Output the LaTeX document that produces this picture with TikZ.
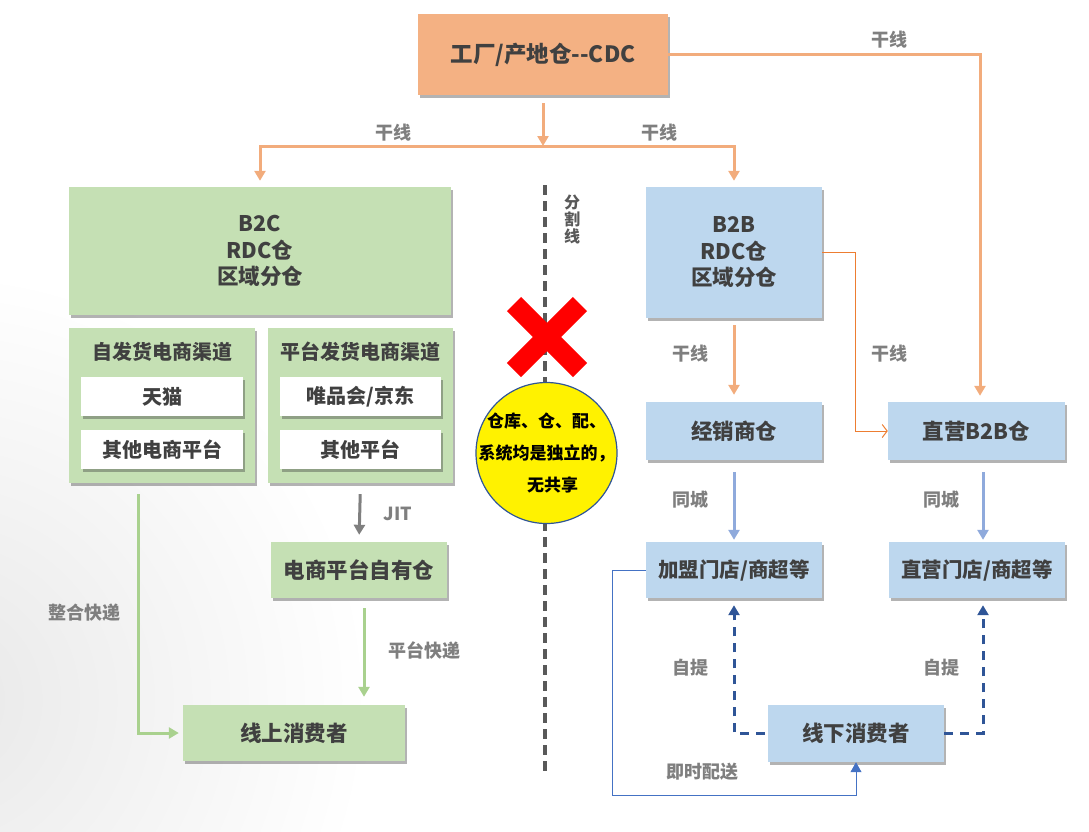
\documentclass[tikz,border=0pt]{standalone}
\usepackage{fontspec}
\setmainfont{Noto Sans CJK SC}
\usepackage{tikz}
\usetikzlibrary{arrows.meta,positioning,shadows,calc}
\definecolor{LogOrange}{HTML}{F4B183}
\definecolor{LogTrunk}{HTML}{F2AC7C}
\definecolor{LogThin}{HTML}{ED7D31}
\definecolor{LogGreen}{HTML}{C5E0B4}
\definecolor{LogGreenLine}{HTML}{A9D18E}
\definecolor{LogBlue}{HTML}{BDD7EE}
\definecolor{LogBlueLine}{HTML}{8FAADC}
\definecolor{LogNavy}{HTML}{2F5597}
\definecolor{LogRoyal}{HTML}{4472C4}
\definecolor{LogText}{HTML}{404040}
\definecolor{LogLabel}{HTML}{7F7F7F}
\definecolor{LogDivider}{HTML}{595959}
\tikzset{
  basebox/.style={draw=none,align=center,inner sep=2pt,text=LogText,font=\fontsize{21.5}{26.5}\selectfont\bfseries,drop shadow={shadow xshift=1.5pt,shadow yshift=-2.5pt,opacity=.4,fill=black!75}},
  cdcbox/.style={basebox,fill=LogOrange,font=\fontsize{22.5}{26}\selectfont\bfseries},
  b2cbox/.style={basebox,fill=LogGreen},
  b2bbox/.style={basebox,fill=LogBlue},
  chanbox/.style={basebox,fill=white,minimum width=162pt,minimum height=39pt,font=\fontsize{20}{24}\selectfont\bfseries},
  lbl/.style={font=\fontsize{18}{20}\selectfont\bfseries,text=LogLabel},
  trunkarrow/.style={-{Triangle[length=10pt,width=11pt]},line width=3pt,draw=LogTrunk},
  thinarrow/.style={-{Straight Barb[length=5pt,width=13pt]},line width=1pt,draw=LogThin},
  greenarrow/.style={-{Triangle[length=10pt,width=11pt]},line width=3pt,draw=LogGreenLine},
  jitarrow/.style={-{Triangle[length=10pt,width=11pt]},line width=3pt,draw=LogLabel},
  cityarrow/.style={-{Triangle[length=10pt,width=11pt]},line width=3pt,draw=LogBlueLine},
  pickarrow/.style={-{Triangle[length=10pt,width=11pt]},line width=3pt,draw=LogNavy,dash pattern=on 9pt off 7pt},
  instarrow/.style={-{Triangle[length=10pt,width=11pt]},line width=1pt,draw=LogRoyal}
}
\begin{document}
\begin{tikzpicture}[x=1pt,y=-1pt]
\useasboundingbox (0,0) rectangle (1089,831);
\begin{scope}
\clip (0,0) rectangle (1089,831);
\shade[inner color=black!9,outer color=white] (-60,700) circle (430);
\end{scope}
% divider
\draw[LogDivider,line width=4pt,dash pattern=on 10pt off 6pt] (545,185) -- (545,772);
\node[lbl,text=LogDivider,align=center,font=\fontsize{16}{17}\selectfont\bfseries] (divlbl) at (572,219) {分\\割\\线};
% boxes
\node[cdcbox,minimum width=250pt,minimum height=81pt] (cdc) at (543,54.5) {工厂/产地仓-{}-CDC};
\node[b2cbox,minimum width=382pt,minimum height=128pt] (b2c) at (260,251) {B2C\\RDC仓\\区域分仓};
\node[b2cbox,minimum width=186pt,minimum height=155pt] (self) at (162,405.5) {};
\node[b2cbox,minimum width=185pt,minimum height=155pt] (plat) at (360.5,405.5) {};
\node[text=LogText,font=\fontsize{20}{24}\selectfont\bfseries] (selftitle) at (162,352) {自发货电商渠道};
\node[text=LogText,font=\fontsize{20}{24}\selectfont\bfseries] (plattitle) at (360.5,352) {平台发货电商渠道};
\node[chanbox] (tmall) at (162,396.5) {天猫};
\node[chanbox] (otherec) at (162,449.5) {其他电商平台};
\node[chanbox,minimum width=161pt] (vip) at (360.5,396.5) {唯品会/京东};
\node[chanbox,minimum width=161pt] (otherplat) at (360.5,449.5) {其他平台};
\node[b2cbox,minimum width=176pt,minimum height=56pt] (own) at (359,570) {电商平台自有仓};
\node[b2cbox,minimum width=222pt,minimum height=56pt] (online) at (294,733) {线上消费者};
\node[b2bbox,minimum width=176pt,minimum height=131pt] (b2b) at (734,252.5) {B2B\\RDC仓\\区域分仓};
\node[b2bbox,minimum width=176pt,minimum height=58pt] (dealer) at (734,431) {经销商仓};
\node[b2bbox,minimum width=177pt,minimum height=58pt] (direct) at (976.5,431) {直营B2B仓};
\node[b2bbox,minimum width=176pt,minimum height=56pt,font=\fontsize{20.5}{24}\selectfont\bfseries] (franchise) at (734,570) {加盟门店/商超等};
\node[b2bbox,minimum width=176pt,minimum height=56pt,font=\fontsize{20.5}{24}\selectfont\bfseries] (dstore) at (977,570) {直营门店/商超等};
\node[b2bbox,minimum width=176pt,minimum height=57pt] (offline) at (856,733.5) {线下消费者};
% red cross and note
\draw[red,line width=20pt] (514,304) -- (580,370) (514,370) -- (580,304);
\node[circle,draw=LogNavy,line width=1.2pt,fill=yellow,minimum size=141pt,inner sep=0pt] (note) at (546.5,453) {};
\node[align=center,inner sep=0pt,font=\fontsize{17}{32}\selectfont\bfseries] (notetext) at (note.center) {仓库、仓、配、\\系统均是独立的，\\\hspace*{12pt}无共享};
% trunk lines
\coordinate (split) at (543,146);
\draw[trunkarrow,shorten <=8pt] (cdc.south) -- (split);
\draw[trunkarrow,shorten >=6pt] (split) -| (b2c.north);
\draw[trunkarrow,shorten >=6pt] (split) -| (b2b.north);
\draw[trunkarrow,shorten >=6pt] (cdc.east) -| ($(direct.north)+(3.5,0)$);
\draw[trunkarrow,shorten <=7pt,shorten >=7pt] (b2b.south) -- (dealer.north);
\draw[thinarrow] (b2b.east) -- ++(33,0) |- (direct.west);
\node[lbl] (lt1) at (393,133) {干线};
\node[lbl] (lt2) at (659,133) {干线};
\node[lbl] (lt3) at (889,40) {干线};
\node[lbl] (lt4) at (690,354) {干线};
\node[lbl] (lt5) at (889,354) {干线};
% B2C side
\coordinate (selfout) at ($(self.south)+(-24,0)$);
\draw[greenarrow,shorten <=11pt,shorten >=4pt] (selfout) |- (online.west);
\draw[jitarrow,shorten <=11pt,shorten >=7pt] (plat.south) -- (own.north);
\coordinate (ownout) at ($(own.south)+(5,0)$);
\draw[greenarrow,shorten <=10pt,shorten >=8pt] (ownout) -- (ownout |- online.north);
\node[lbl] (lmerge) at (84,613) {整合快递};
\node[lbl] (ljit) at (398,514) {JIT};
\node[lbl] (lplat) at (424,651) {平台快递};
% B2B side
\draw[cityarrow,shorten <=12pt,shorten >=2pt] (dealer.south) -- (franchise.north);
\coordinate (directout) at ($(direct.south)+(6.5,0)$);
\draw[cityarrow,shorten <=12pt,shorten >=2pt] (directout) -- (directout |- dstore.north);
\draw[pickarrow,shorten <=3pt,shorten >=7pt] (offline.west) -| (franchise.south);
\draw[pickarrow,shorten >=7pt] (offline.east) -| ($(dstore.south)+(6,0)$);
\coordinate (instcorner) at (612,795);
\draw[instarrow] (franchise.west) -| (instcorner) -| (offline.south);
\node[lbl] (lcity1) at (690,500) {同城};
\node[lbl] (lcity2) at (941,500) {同城};
\node[lbl] (lpick1) at (690,668) {自提};
\node[lbl] (lpick2) at (941,668) {自提};
\node[lbl] (linst) at (702,772) {即时配送};
\end{tikzpicture}
\end{document}
